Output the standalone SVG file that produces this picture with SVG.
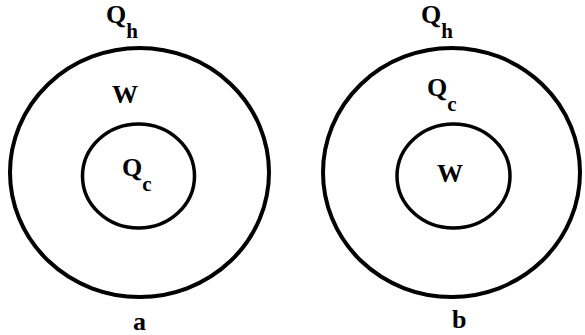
<svg xmlns="http://www.w3.org/2000/svg" width="585" height="335" viewBox="0 0 585 335">
<style>
.ring{fill:none;stroke:#000;stroke-width:4}
.inner{fill:none;stroke:#000;stroke-width:3.5}
.t{font-family:"Liberation Serif","Times New Roman",serif;font-weight:bold;font-size:26px;fill:#000}
.s{font-size:21px}
</style>
<rect width="585" height="335" fill="#fff"/>
<g id="diagram-a">
<g id="a-outer"><ellipse class="ring" cx="139.5" cy="172.5" rx="129.5" ry="124.5"/>
<text class="t" x="106" y="23">Q<tspan class="s" dy="15">h</tspan></text></g>
<g id="a-middle"><text class="t" x="112" y="103">W</text></g>
<g id="a-inner"><ellipse class="inner" cx="138.5" cy="176" rx="56" ry="52"/>
<text class="t" x="122" y="176">Q<tspan class="s" dy="15">c</tspan></text></g>
<text class="t" x="133" y="330">a</text>
</g>
<g id="diagram-b">
<g id="b-outer"><ellipse class="ring" cx="451.5" cy="172.5" rx="128.5" ry="124.5"/>
<text class="t" x="421" y="23">Q<tspan class="s" dy="15">h</tspan></text></g>
<g id="b-middle"><text class="t" x="427" y="96">Q<tspan class="s" dy="15">c</tspan></text></g>
<g id="b-inner"><ellipse class="inner" cx="453.5" cy="176" rx="56.5" ry="52"/>
<text class="t" x="437" y="182">W</text></g>
<text class="t" x="452" y="328">b</text>
</g>
<g id="connectors"/>
</svg>
